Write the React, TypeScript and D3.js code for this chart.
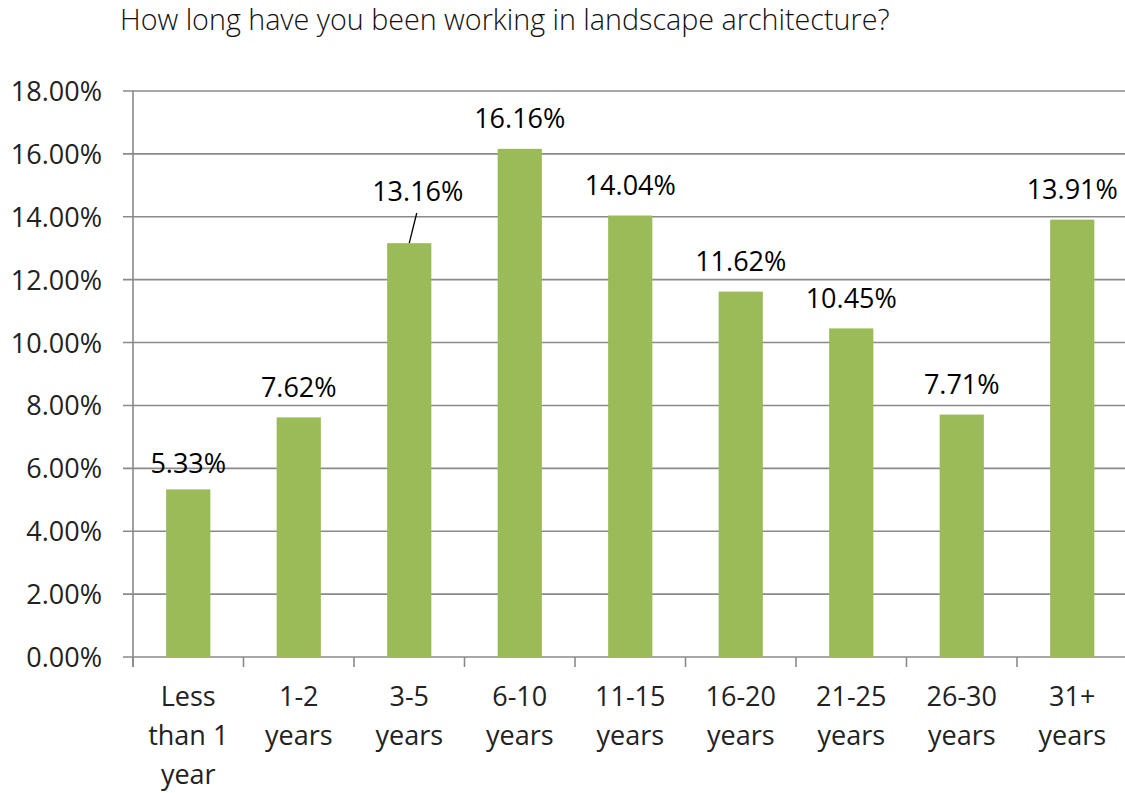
import React from "react";
import * as d3 from "d3";

const title = "How long have you been working in landscape architecture?";
const categories: string[][] = [
  ["Less", "than 1", "year"],
  ["1-2", "years"],
  ["3-5", "years"],
  ["6-10", "years"],
  ["11-15", "years"],
  ["16-20", "years"],
  ["21-25", "years"],
  ["26-30", "years"],
  ["31+", "years"],
];
const values = [5.33, 7.62, 13.16, 16.16, 14.04, 11.62, 10.45, 7.71, 13.91];
const yTicks = [0, 2, 4, 6, 8, 10, 12, 14, 16, 18];

const W = 1125;
const H = 793;
const left = 133;
const right = 1127.5;
const top = 91;
const bottom = 657;
const FONT = "'Open Sans', 'Noto Sans', sans-serif";

export default function App() {
  const x = d3.scaleBand<number>().domain(d3.range(values.length)).range([left, right]).paddingInner(0.6).paddingOuter(0.3);
  const xb = d3.scaleBand<number>().domain(d3.range(values.length)).range([left, right]);
  const y = d3.scaleLinear().domain([0, 18]).range([bottom, top]);
  const fmt = (v: number) => v.toFixed(2) + "%";
  const grid = "#8a8a8a";
  return (
    <svg width={W} height={H} style={{ position: "absolute", left: 0, top: 0, background: "#fff" }} fontFamily={FONT}>
      <text x={120} y={30} fontSize={28.7} fontWeight={300} fill="#111">{title}</text>
      {yTicks.map((t) => (
        <g key={t}>
          <line x1={123} x2={right} y1={y(t)} y2={y(t)} stroke={grid} strokeWidth={1.6} />
          <text x={102} y={y(t) + 10} textAnchor="end" fontSize={27} fill="#222">{fmt(t)}</text>
        </g>
      ))}
      <line x1={left} x2={left} y1={top} y2={bottom + 10} stroke={grid} strokeWidth={1.6} />
      {d3.range(values.length + 1).map((i) => {
        const xx = i < values.length ? xb(i)! : right;
        return <line key={i} x1={xx} x2={xx} y1={bottom} y2={bottom + 10} stroke={grid} strokeWidth={1.6} />;
      })}
      {values.map((v, i) => {
        const cx = xb(i)! + xb.bandwidth() / 2;
        const bx = x(i)!;
        const isOffset = i === 2;
        const isLow = i === 0;
        const ly = isOffset ? 201 : y(v) - (isLow ? 16 : 20.5);
        const lx = isOffset ? cx + 8.5 : cx;
        return (
          <g key={i}>
            <rect x={bx} y={y(v)} width={x.bandwidth()} height={bottom - y(v)} fill="#9BBB59" />
            {isOffset && (
              <line x1={cx + 7.5} y1={213} x2={cx} y2={y(v)} stroke="#000" strokeWidth={1.3} />
            )}
            <text x={lx} y={ly} textAnchor="middle" fontSize={27} fill="#000">{fmt(v)}</text>
            {categories[i].map((line, j) => (
              <text key={j} x={cx} y={706 + j * 39} textAnchor="middle" fontSize={27} fill="#222">{line}</text>
            ))}
          </g>
        );
      })}
    </svg>
  );
}
